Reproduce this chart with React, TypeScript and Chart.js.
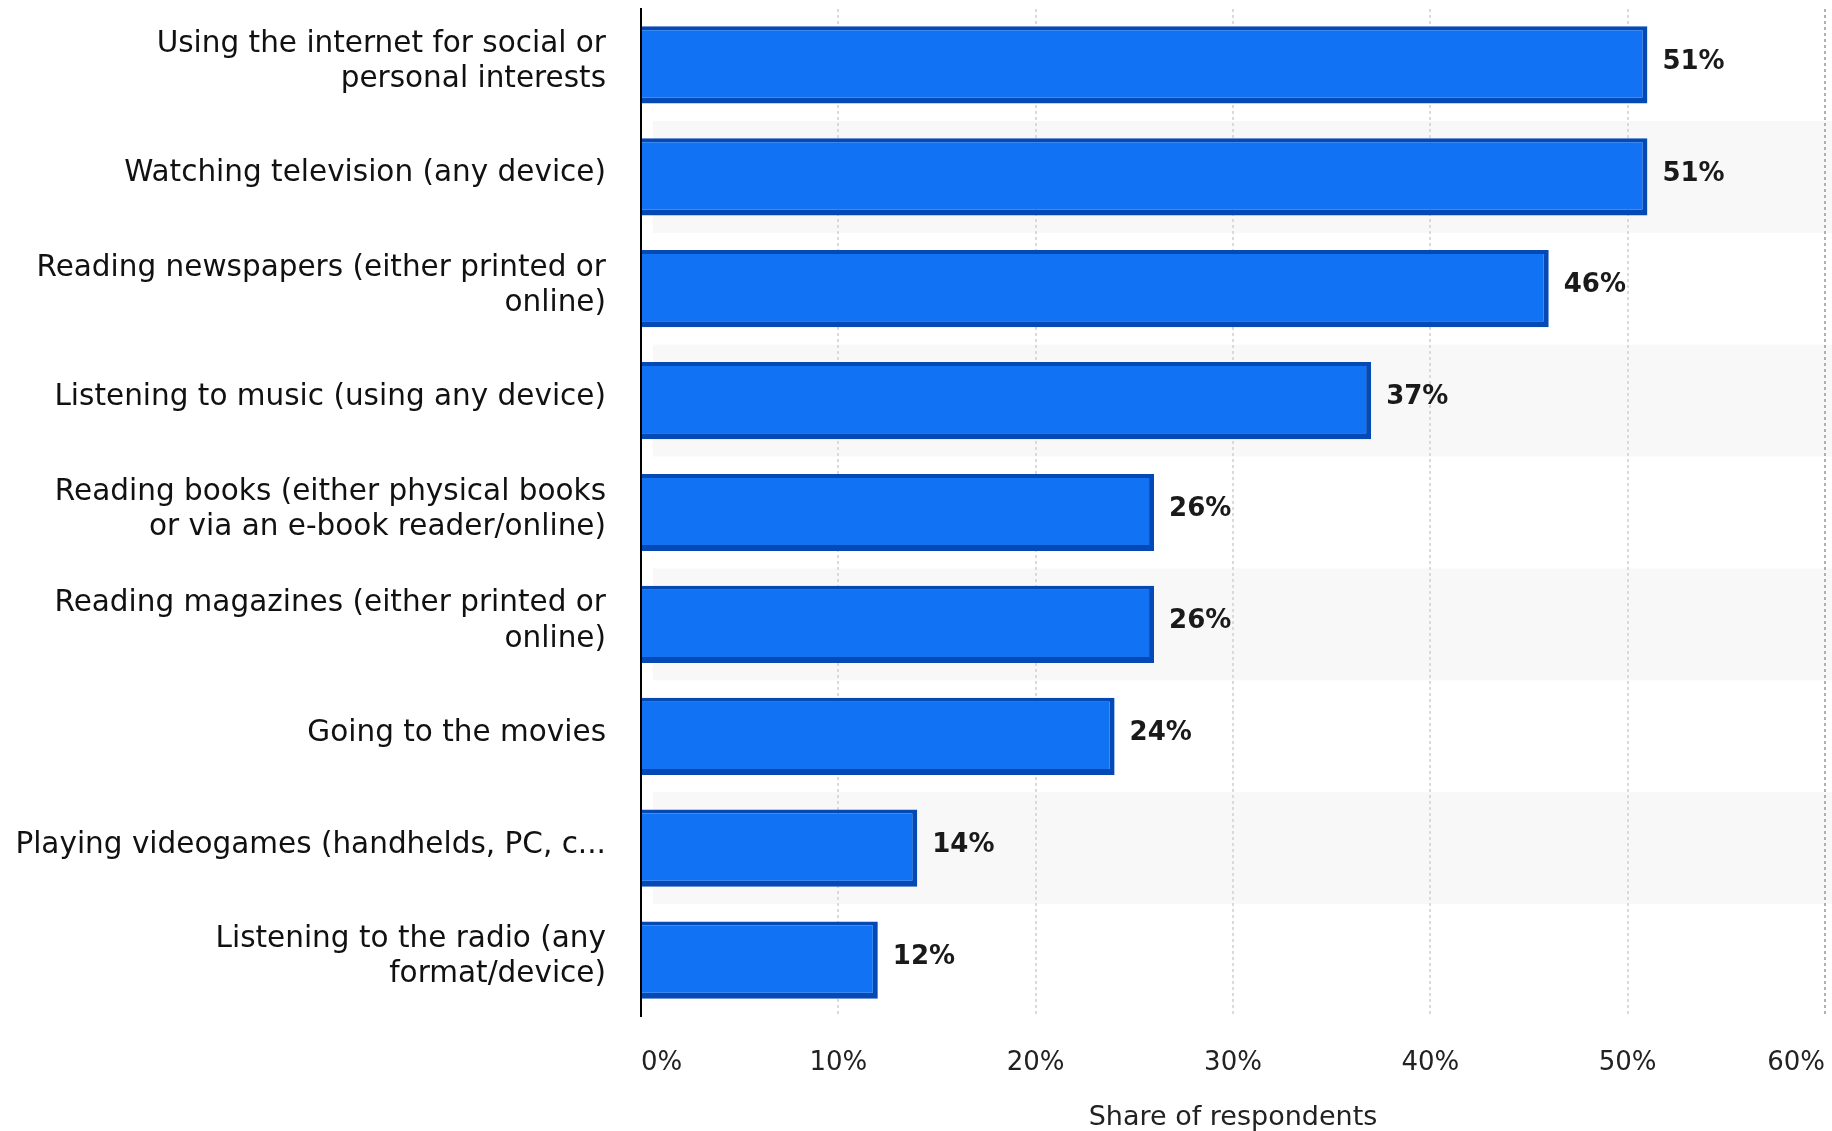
import React, { useEffect, useRef } from "react";
import { Chart, registerables } from "chart.js";

Chart.register(...registerables);

const categories: (string | string[])[] = [
  ["Using the internet for social or", "personal interests"],
  "Watching television (any device)",
  ["Reading newspapers (either printed or", "online)"],
  "Listening to music (using any device)",
  ["Reading books (either physical books", "or via an e-book reader/online)"],
  ["Reading magazines (either printed or", "online)"],
  "Going to the movies",
  "Playing videogames (handhelds, PC, c...",
  ["Listening to the radio (any", "format/device)"],
];

const shareValues: number[] = [51, 51, 46, 37, 26, 26, 24, 14, 12];

const xTickValues: number[] = [0, 10, 20, 30, 40, 50, 60];

const axisTitle = "Share of respondents";

const stripePlugin = {
  id: "stripes",
  beforeDraw(chart: any) {
    const { ctx, chartArea, scales } = chart;
    const y = scales.y;
    const n = categories.length;
    const band = (chartArea.bottom - chartArea.top) / n;
    ctx.save();
    ctx.fillStyle = "#f8f8f8";
    for (let i = 1; i < n; i += 2) {
      const c = y.getPixelForValue(i);
      ctx.fillRect(chartArea.left + 12, c - band / 2, chart.width - chartArea.left - 12, band);
    }
    ctx.restore();
  },
};

const valueLabelPlugin = {
  id: "valueLabels",
  afterDatasetsDraw(chart: any) {
    const { ctx } = chart;
    const meta = chart.getDatasetMeta(0);
    ctx.save();
    ctx.font = "bold 26px 'DejaVu Sans'";
    ctx.fillStyle = "#1a1a1a";
    ctx.textAlign = "left";
    ctx.textBaseline = "middle";
    meta.data.forEach((el: any, i: number) => {
      ctx.fillText(shareValues[i] + "%", el.x + 15, el.y - 3);
    });
    ctx.restore();
  },
};

export default function App() {
  const ref = useRef<HTMLCanvasElement | null>(null);

  useEffect(() => {
    if (!ref.current) return;
    const chart = new Chart(ref.current, {
      type: "bar",
      data: {
        labels: categories,
        datasets: [
          {
            data: shareValues,
            backgroundColor: "#1173f3",
            borderColor: "#0549b4",
            borderWidth: { top: 4, right: 5, bottom: 6, left: 0 },
            borderSkipped: false,
            barPercentage: 0.69,
            categoryPercentage: 1,
          },
        ],
      },
      options: {
        indexAxis: "y",
        animation: false,
        responsive: true,
        maintainAspectRatio: false,
        layout: { padding: { top: 9, right: 7, left: 0, bottom: 0 } },
        plugins: {
          legend: { display: false },
          tooltip: { enabled: false },
        },
        scales: {
          x: {
            min: 0,
            max: 60,
            afterBuildTicks(scale: any) {
              scale.ticks = xTickValues.map((v) => ({ value: v }));
            },
            afterFit(scale: any) {
              scale.paddingLeft = 0;
              scale.paddingRight = 0;
              scale.height = 115;
            },
            ticks: {
              align: "inner",
              padding: 32,
              color: "#222",
              font: { family: "'DejaVu Sans'", size: 26, lineHeight: 1.2 },
              callback: (v: any) => v + "%",
            },
            grid: {
              drawTicks: false,
              lineWidth: 2,
              color: (c: any) => (c.tick && c.tick.value === 60 ? "#b0b0b0" : "#dadada"),
            },
            border: { display: false, dash: [3, 3] },
            title: {
              display: true,
              text: axisTitle,
              color: "#222",
              font: { family: "'DejaVu Sans'", size: 27, lineHeight: 1 },
              padding: { top: 28, bottom: 0 },
            },
          },
          y: {
            afterFit(scale: any) {
              scale.width = 641;
              scale.paddingTop = 0;
              scale.paddingBottom = 0;
            },
            ticks: {
              padding: 35,
              labelOffset: -3,
              color: "#111",
              font: { family: "'DejaVu Sans'", size: 29.5, lineHeight: 1.19 },
            },
            grid: { display: false, drawTicks: false },
            border: { display: true, color: "#000", width: 2 },
          },
        },
      },
      plugins: [stripePlugin, valueLabelPlugin],
    } as any);
    return () => chart.destroy();
  }, []);

  return (
    <div style={{ position: "fixed", left: 0, top: 0, width: 1832, height: 1131, background: "#fff" }}>
      <canvas ref={ref} />
    </div>
  );
}
